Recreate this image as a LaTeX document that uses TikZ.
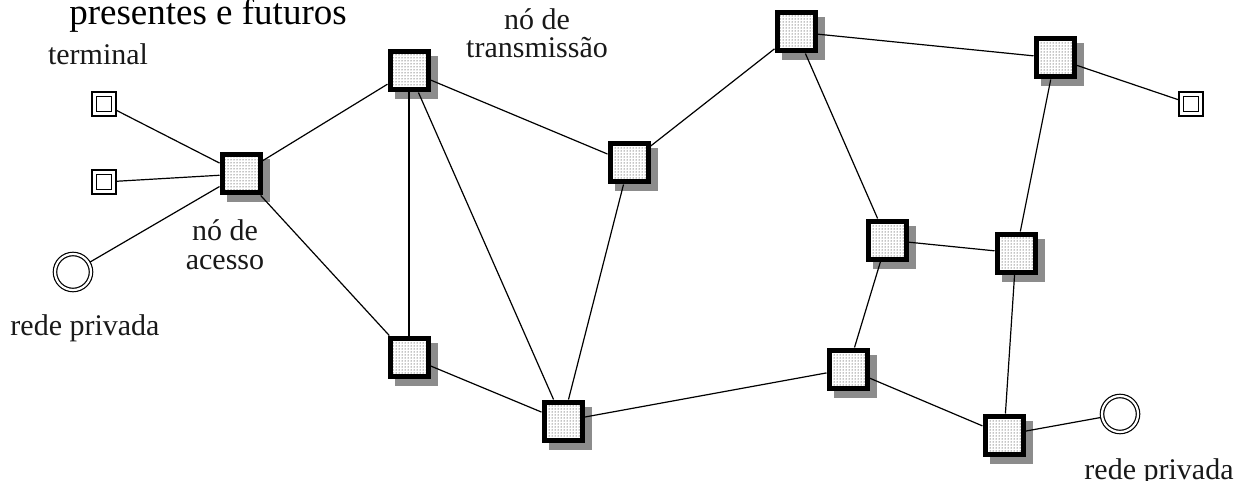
\documentclass[tikz,border=0pt]{standalone}
\usepackage{fontspec}
\setmainfont{Liberation Serif}
\usetikzlibrary{patterns,calc}
\pgfdeclarelayer{shadowlayer}
\pgfdeclarelayer{edgelayer}
\pgfsetlayers{shadowlayer,edgelayer,main}
\definecolor{shadowgray}{RGB}{140,140,140}
\begin{document}
\begin{tikzpicture}[x=1pt,y=-1pt,
  netbox/.style={rectangle, draw=black, line width=5pt, inner sep=0pt, minimum size=38pt,
    preaction={fill=white}, pattern=dots, pattern color=black},
  termbox/.style={rectangle, draw=black, double, line width=1.4pt, double distance=3pt,
    inner sep=0pt, minimum size=19.5pt},
  privnet/.style={circle, draw=black, double, line width=1.2pt, double distance=2.2pt,
    inner sep=0pt, minimum size=36pt},
  link/.style={draw=black, line width=1.2pt},
  lbl/.style={font=\fontsize{30}{34}\selectfont, anchor=base, inner sep=0pt, text=black!90},
  bigl/.style={font=\fontsize{37}{42}\selectfont, anchor=base, inner sep=0pt}
]
\useasboundingbox (0,0) rectangle (1244,481);

% network nodes
\node[netbox] (A)  at (241,174) {};
\node[netbox] (T1) at (409,71) {};
\node[netbox] (B)  at (409,357) {};
\node[netbox] (C)  at (563,421) {};
\node[netbox] (D)  at (629,163) {};
\node[netbox] (E)  at (796,32) {};
\node[netbox] (F)  at (1055,58) {};
\node[netbox] (G)  at (887,240) {};
\node[netbox] (H)  at (1016,253) {};
\node[netbox] (I)  at (848,369) {};
\node[netbox] (J)  at (1004,435) {};

% terminals and private networks
\node[termbox] (t1) at (104,104) {};
\node[termbox] (t2) at (104,182) {};
\node[termbox] (t3) at (1191,104) {};
\node[privnet] (p1) at (73,272) {};
\node[privnet] (p2) at (1120,414) {};

% shadows
\begin{pgfonlayer}{shadowlayer}
\foreach \n in {A,T1,B,C,D,E,F,G,H,I,J}
  \fill[shadowgray] ($(\n.south west)+(7,7)$) rectangle ($(\n.north east)+(7,7)$);
\end{pgfonlayer}

% links
\begin{pgfonlayer}{edgelayer}
\path[link] (t1) -- (A);
\path[link] (t2) -- (A);
\path[link] (p1) -- (A);
\path[link] (A) -- (T1);
\path[link] (A) -- (B);
\path[link] (T1) -- (B);
\path[link] (T1) -- (C);
\path[link] (T1) -- (D);
\path[link] (B) -- (C);
\path[link] (D) -- (C);
\path[link] (D) -- (E);
\path[link] (E) -- (F);
\path[link] (E) -- (G);
\path[link] (F) -- (t3);
\path[link] (F) -- (H);
\path[link] (G) -- (H);
\path[link] (G) -- (I);
\path[link] (I) -- (C);
\path[link] (I) -- (J);
\path[link] (H) -- (J);
\path[link] (J) -- (p2);
\end{pgfonlayer}

% labels
\node[bigl] (title) at (208,25) {presentes e futuros};
\node[lbl] (lterm) at (98,65) {terminal};
\node[lbl] (lacc1) at (225,240) {nó de};
\node[lbl] (lacc2) at (225,269) {acesso};
\node[lbl] (ltr1) at (537,30) {nó de};
\node[lbl] (ltr2) at (537,58) {transmissão};
\node[lbl] (lp1) at (85,335) {rede privada};
\node[lbl] (lp2) at (1159,479) {rede privada};
\end{tikzpicture}
\end{document}
